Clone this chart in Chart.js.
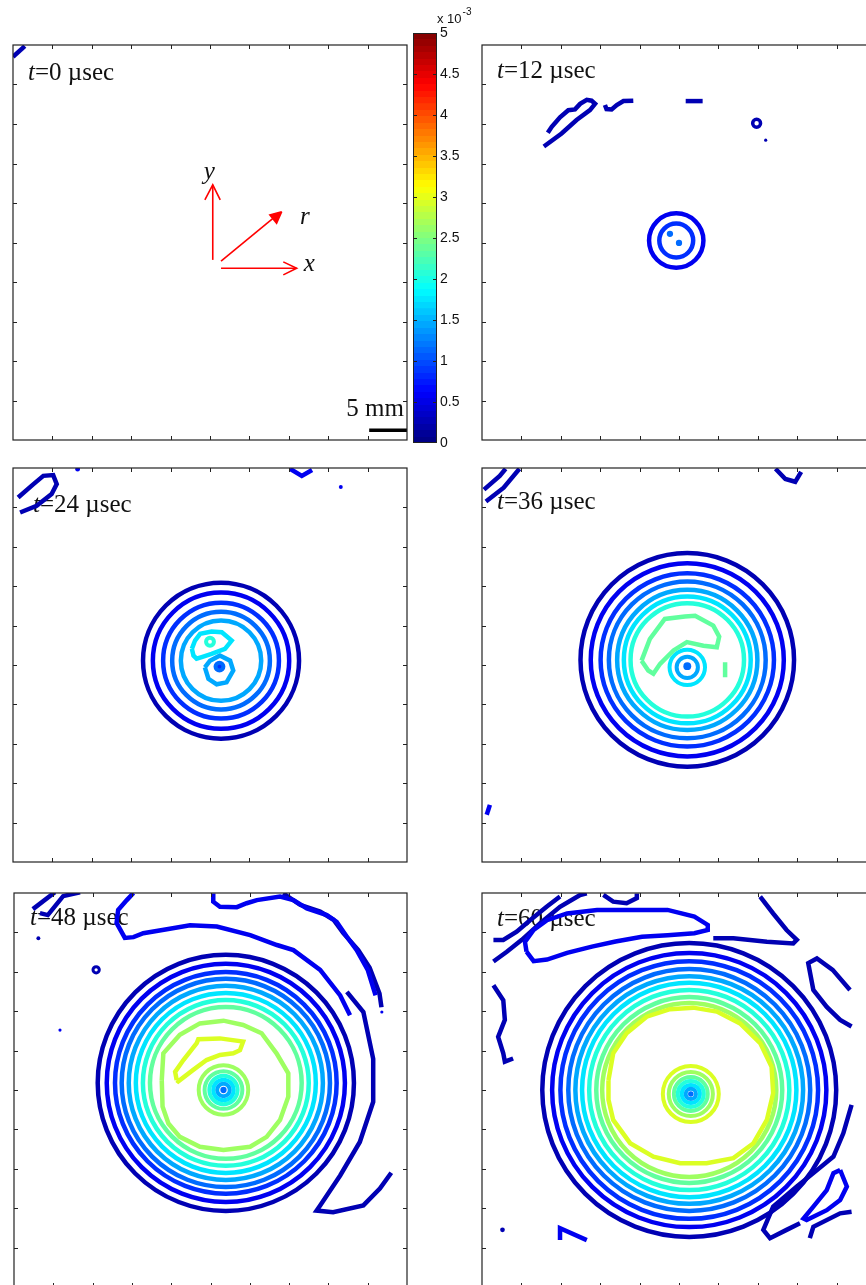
<!DOCTYPE html>
<html>
<head>
<meta charset="utf-8">
<script src="https://cdn.jsdelivr.net/npm/chart.js@4.4.0/dist/chart.umd.min.js"></script>
<style>
  html, body { margin: 0; padding: 0; background: #fff; }
  #page { position: relative; width: 866px; height: 1285px; overflow: hidden; }
  #page canvas { position: absolute; }
</style>
</head>
<body>
<div id="page">
  <canvas id="p1"></canvas>
  <canvas id="p2"></canvas>
  <canvas id="p3"></canvas>
  <canvas id="p4"></canvas>
  <canvas id="p5"></canvas>
  <canvas id="p6"></canvas>
  <canvas id="cbar"></canvas>
</div>
<script>
// contour levels (x 10^-3) and colour bar
const levels = [0.25, 0.55, 0.85, 1.15, 1.45, 1.75, 2.05, 2.35, 2.65, 2.95];
const cbRange = [0, 5];
const cbTicks = [0, 0.5, 1, 1.5, 2, 2.5, 3, 3.5, 4, 4.5, 5];
const panelTicks = [1, 2, 3, 4, 5, 6, 7, 8, 9];
const timeLabels = ['0', '12', '24', '36', '48', '60'];

// panel 1 (t=0): only a corner fragment + the axes sketch
const p1Frag = [[0, 9.70], [0.30, 9.97]];
const arrowY = [[5.07, 4.56], [5.07, 6.46]];
const arrowYHead = [[4.87, 6.08], [5.07, 6.46], [5.26, 6.08]];
const arrowX = [[5.28, 4.35], [7.20, 4.35]];
const arrowXHead = [[6.86, 4.51], [7.20, 4.35], [6.86, 4.18]];
const arrowR = [[5.28, 4.53], [6.66, 5.66]];
const arrowRHead = [[6.82, 5.78], [6.52, 5.70], [6.69, 5.49], [6.82, 5.78]];
const scaleBar = [[9.04, 0.25], [10, 0.25]];

// panel 2 (t=12)
const p2Center = [4.93, 5.05];
const p2Radii = [0.69, 0.43];
const p2Levels = [1, 2];
const p2FragA = [[1.57, 7.43], [2.02, 7.76], [2.40, 8.10], [2.74, 8.35], [2.87, 8.51], [2.78, 8.59],
  [2.66, 8.61], [2.49, 8.51], [2.36, 8.37], [2.19, 8.35], [1.98, 8.17], [1.77, 7.93], [1.67, 7.78]];
const p2FragB = [[3.12, 8.48], [3.16, 8.38], [3.29, 8.37], [3.42, 8.48], [3.59, 8.58], [3.84, 8.59]];
const p2FragC = [[5.17, 8.58], [5.60, 8.58]];
const p2Dots = [[4.77, 5.22, 0.08, 3], [5.00, 4.99, 0.08, 3], [7.20, 7.59, 0.04, 0]];
const p2SmallRing = [[6.97, 8.02, 0.10, 0]];

// panel 3 (t=24)
const p3Center = [5.28, 5.11];
const p3Radii = [1.98, 1.73, 1.47, 1.24, 1.02];
const p3Levels = [0, 1, 2, 3, 4];
const p3Inner = [[4.54, 5.41], [4.62, 5.62], [4.75, 5.79], [5.04, 5.85], [5.30, 5.83], [5.55, 5.62],
  [5.38, 5.41], [5.04, 5.28], [4.79, 5.20], [4.66, 5.16], [4.58, 5.24], [4.54, 5.41]];
const p3Core = [[4.87, 4.94], [5.00, 5.11], [5.25, 5.24], [5.51, 5.11], [5.59, 4.86], [5.42, 4.56],
  [5.17, 4.51], [4.96, 4.65], [4.87, 4.94]];
const p3Corner = [[0.13, 9.25], [0.52, 9.59], [0.77, 9.80], [1.02, 9.82], [1.11, 9.59], [0.98, 9.34],
  [0.60, 9.04], [0.18, 8.87]];
const p3TopRight = [[7.03, 9.98], [7.33, 9.80], [7.59, 9.95]];
const p3SmallRings = [[5.00, 5.59, 0.10, 6], [5.24, 4.96, 0.10, 3]];
const p3Dots = [[5.24, 4.96, 0.08, 2], [1.64, 9.97, 0.06, 1], [8.32, 9.52, 0.05, 1]];

// panel 4 (t=36)
const p4Center = [5.21, 5.13];
const p4Radii = [2.71, 2.45, 2.20, 1.99, 1.78, 1.61, 1.44];
const p4Levels = [0, 1, 2, 3, 4, 5, 6];
const p4Inner = [[4.05, 5.11], [4.26, 5.66], [4.64, 6.17], [5.15, 6.23], [5.41, 6.25], [5.87, 6.00],
  [6.02, 5.72], [5.96, 5.45], [5.62, 5.49], [5.20, 5.58], [4.86, 5.37], [4.52, 5.03], [4.35, 4.78],
  [4.22, 4.86], [4.05, 5.11]];
const p4Dash = [[6.17, 5.07], [6.17, 4.69]];
const p4CornerA = [[0.05, 9.45], [0.45, 9.80], [0.60, 9.98]];
const p4CornerB = [[0.10, 9.15], [0.55, 9.50], [0.95, 9.98]];
const p4TopRight = [[7.45, 9.98], [7.70, 9.72], [7.95, 9.65], [8.10, 9.90]];
const p4BottomLeft = [[0.12, 1.20], [0.20, 1.45]];
const p4SmallRings = [[5.21, 4.94, 0.45, 5], [5.21, 4.94, 0.27, 4]];
const p4Dots = [[5.21, 4.97, 0.10, 3]];

// panel 5 (t=48)
const p5Center = [5.39, 5.18];
const p5Radii = [3.26, 3.03, 2.82, 2.65, 2.47, 2.29, 2.11, 1.93];
const p5Levels = [0, 1, 2, 3, 4, 5, 6, 7];
const p5Inner = [[3.76, 5.25], [3.80, 5.93], [4.22, 6.40], [4.73, 6.69], [5.33, 6.76], [5.83, 6.65],
  [6.30, 6.44], [6.68, 5.93], [6.98, 5.42], [6.98, 4.83], [6.77, 4.24], [6.43, 3.81], [6.01, 3.56],
  [5.33, 3.48], [4.73, 3.56], [4.22, 3.81], [3.93, 4.15], [3.78, 4.58], [3.76, 5.25]];
const p5Patch = [[4.14, 5.25], [4.10, 5.46], [4.31, 5.76], [4.65, 6.19], [4.69, 6.29], [5.24, 6.31],
  [5.83, 6.23], [5.75, 6.01], [5.58, 5.93], [5.24, 5.89], [4.90, 5.76], [4.56, 5.51], [4.18, 5.22], [4.14, 5.25]];
const p5CoreRadii = [0.63, 0.48, 0.36, 0.26, 0.16];
const p5CoreLevels = [8, 7, 6, 5, 4];
const p5CoreCenter = [5.33, 5.00];
const p5CornerA = [[0.48, 9.59], [1.04, 10.02]];
const p5CornerB = [[0.66, 9.49], [0.86, 9.44], [1.25, 9.92], [1.68, 10.02]];
const p5Wave = [[3.04, 10.0], [2.87, 9.82], [2.65, 9.57], [2.61, 9.24], [2.82, 8.86], [3.04, 8.88],
  [3.29, 8.98], [3.89, 9.08], [4.48, 9.18], [5.16, 9.15], [6.01, 8.93], [6.69, 8.68], [7.11, 8.55],
  [7.79, 8.05], [8.30, 7.40], [8.55, 6.90]];
const p5TopLoop = [[5.07, 9.99], [5.07, 9.78], [5.24, 9.65], [5.67, 9.64], [5.92, 9.74], [6.18, 9.82],
  [6.77, 9.91], [7.11, 9.82], [7.45, 9.61], [7.96, 9.44], [8.21, 9.27], [8.47, 8.89], [8.72, 8.55],
  [9.00, 8.05], [9.20, 7.40]];
const p5TopNavy = [[6.85, 9.99], [7.28, 9.70], [7.79, 9.53], [8.13, 9.32], [8.38, 8.98], [8.76, 8.55],
  [9.05, 8.10], [9.30, 7.45], [9.35, 7.10]];
const p5Right = [[8.47, 7.49], [8.89, 6.98], [9.14, 5.79], [9.14, 4.70], [8.80, 3.68], [8.30, 2.83],
  [7.79, 2.07], [7.70, 1.94], [8.12, 1.90], [8.89, 2.07], [9.31, 2.50], [9.60, 2.90]];
const p5Dots = [[5.33, 5.00, 0.08, 3], [0.62, 8.85, 0.05, 0], [1.17, 6.52, 0.04, 1], [9.36, 6.98, 0.04, 1]];
const p5SmallRing = [[2.09, 8.05, 0.08, 0]];

// panel 6 (t=60)
const p6Center = [5.26, 5.00];
const p6Radii = [3.73, 3.48, 3.27, 3.07, 2.89, 2.72, 2.54, 2.36, 2.21];
const p6Levels = [0, 1, 2, 3, 4, 5, 6, 7, 8];
const p6Inner = [[3.21, 5.25], [3.33, 5.93], [3.67, 6.44], [4.18, 6.86], [4.77, 7.05], [5.36, 7.09],
  [5.96, 6.99], [6.55, 6.69], [7.06, 6.19], [7.35, 5.59], [7.39, 4.92], [7.23, 4.24], [6.89, 3.65],
  [6.38, 3.27], [5.70, 3.14], [5.03, 3.14], [4.35, 3.31], [3.76, 3.65], [3.33, 4.24], [3.21, 4.75], [3.21, 5.25]];
const p6CoreRadii = [0.71, 0.56, 0.43, 0.33, 0.23, 0.13];
const p6CoreLevels = [9, 8, 7, 6, 5, 4];
const p6CoreCenter = [5.30, 4.90];
const p6TopLoop = [[1.13, 8.51], [1.09, 8.76], [1.31, 9.06], [1.65, 9.31], [2.16, 9.48], [2.92, 9.57],
  [3.78, 9.57], [4.71, 9.57], [5.39, 9.40], [5.73, 9.19], [5.73, 9.06], [5.39, 8.98], [4.71, 8.93],
  [4.06, 8.89], [3.39, 8.77], [2.79, 8.64], [2.16, 8.48], [1.65, 8.31], [1.31, 8.27], [1.13, 8.51]];
const p6NavyA = [[0.29, 8.26], [0.63, 8.51], [1.01, 8.81], [1.47, 9.23], [1.98, 9.65], [2.49, 9.95], [2.66, 9.99]];
const p6NavyB = [[0.29, 8.81], [0.54, 8.81], [0.88, 9.02], [1.22, 9.31], [1.64, 9.65], [1.98, 9.91]];
const p6TopSmall = [[3.08, 9.95], [3.33, 9.78], [3.67, 9.74], [3.93, 9.87], [3.93, 9.99]];
const p6TopRight = [[7.06, 9.91], [7.39, 9.48], [7.73, 9.06], [7.99, 8.81], [7.90, 8.72], [7.23, 8.76],
  [6.38, 8.85], [5.87, 8.85]];
const p6RightLoop = [[9.38, 6.61], [9.09, 6.78], [8.75, 7.11], [8.41, 7.54], [8.28, 8.22], [8.50, 8.34],
  [8.90, 8.05], [9.34, 7.54]];
const p6Left = [[0.29, 7.66], [0.54, 7.28], [0.58, 6.78], [0.41, 6.35], [0.54, 5.93], [0.58, 5.72], [0.79, 5.80]];
const p6RightLow = [[9.38, 4.62], [9.17, 3.90], [8.92, 3.31], [8.41, 2.89], [7.99, 2.55], [7.39, 2.04],
  [7.14, 1.45], [7.31, 1.24], [7.73, 1.45], [8.07, 1.62]];
const p6BlueLoop = [[9.09, 2.97], [9.26, 2.55], [9.09, 2.21], [8.75, 1.95], [8.24, 1.70], [8.16, 1.74],
  [8.41, 2.04], [8.75, 2.46], [8.92, 2.89], [9.09, 2.97]];
const p6NavyLow = [[9.38, 1.91], [9.09, 1.87], [8.41, 1.53], [8.32, 1.24]];
const p6Hook = [[1.98, 1.19], [1.98, 1.49], [2.66, 1.19]];
const p6Dots = [[5.30, 4.90, 0.07, 3], [0.52, 1.45, 0.06, 0]];

// ---------------------------------------------------------------
function jet(v) {
  const c = t => Math.round(255 * Math.max(0, Math.min(1, 1.5 - Math.abs(t))));
  return 'rgb(' + c(4 * v - 3) + ',' + c(4 * v - 2) + ',' + c(4 * v - 1) + ')';
}
function levelColor(k) { return jet(levels[k] / cbRange[1]); }
function unitPx(chart) {
  const s = chart.scales.x;
  return Math.abs(s.getPixelForValue(1) - s.getPixelForValue(0));
}
const pts = arr => arr.map(p => ({ x: p[0], y: p[1] }));

function ringSet(center, radii, levs, width) {
  return {
    data: radii.map((r, i) => ({ x: center[0], y: center[1], r: r, lev: levs[i] })),
    showLine: false,
    pointRadius: ctx => unitPx(ctx.chart) * ctx.raw.r,
    pointHoverRadius: ctx => unitPx(ctx.chart) * ctx.raw.r,
    pointBorderWidth: width || 4.5,
    pointHoverBorderWidth: width || 4.5,
    pointBorderColor: ctx => levelColor(ctx.raw.lev),
    pointBackgroundColor: 'rgba(0,0,0,0)',
    clip: 0
  };
}
function smallRings(list, width) {
  return {
    data: list.map(d => ({ x: d[0], y: d[1], r: d[2], lev: d[3] })),
    showLine: false,
    pointRadius: ctx => unitPx(ctx.chart) * ctx.raw.r,
    pointBorderWidth: width || 4,
    pointBorderColor: ctx => levelColor(ctx.raw.lev),
    pointBackgroundColor: 'rgba(0,0,0,0)',
    clip: 0
  };
}
function dotSet(list) {
  return {
    data: list.map(d => ({ x: d[0], y: d[1], r: d[2], lev: d[3] })),
    showLine: false,
    pointRadius: ctx => Math.max(1.5, unitPx(ctx.chart) * ctx.raw.r),
    pointBorderWidth: 0,
    pointBackgroundColor: ctx => levelColor(ctx.raw.lev),
    clip: 0
  };
}
function pathSet(arr, lev, width) {
  return {
    data: pts(arr),
    showLine: true,
    borderColor: levelColor(lev),
    borderWidth: width || 4.5,
    borderJoinStyle: 'miter',
    pointRadius: 0,
    tension: 0,
    clip: 0
  };
}
function redLine(arr, filled) {
  return {
    data: pts(arr),
    showLine: true,
    borderColor: '#ff0000',
    backgroundColor: '#ff0000',
    borderWidth: 1.6,
    pointRadius: 0,
    fill: filled ? 'shape' : false,
    clip: 0
  };
}

const panelFrame = {
  id: 'panelFrame',
  beforeDatasetsDraw(chart, args, opts) {
    const { ctx, chartArea: a } = chart;
    ctx.save();
    ctx.fillStyle = '#111';
    ctx.textBaseline = 'alphabetic';
    const x0 = a.left + opts.textDx, y0 = a.top + opts.textDy;
    ctx.font = 'italic 25px "Liberation Serif"';
    ctx.fillText('t', x0, y0);
    const tw = ctx.measureText('t').width;
    ctx.font = '25px "Liberation Serif"';
    ctx.fillText('=' + opts.label + ' \u00b5sec', x0 + tw, y0);
    ctx.restore();
  },
  afterDatasetsDraw(chart, args, opts) {
    const { ctx, chartArea: a, scales } = chart;
    ctx.save();
    (opts.notes || []).forEach(n => {
      ctx.font = n.font;
      ctx.fillStyle = '#111';
      ctx.textAlign = n.align || 'center';
      ctx.textBaseline = 'alphabetic';
      ctx.fillText(n.text, scales.x.getPixelForValue(n.x), scales.y.getPixelForValue(n.y));
    });
    ctx.strokeStyle = '#222';
    ctx.lineWidth = 1.2;
    ctx.strokeRect(a.left, a.top, a.right - a.left, a.bottom - a.top);
    ctx.lineWidth = 1;
    ctx.beginPath();
    panelTicks.forEach(v => {
      const px = Math.round(scales.x.getPixelForValue(v)) + 0.5;
      const py = Math.round(scales.y.getPixelForValue(v)) + 0.5;
      ctx.moveTo(px, a.top); ctx.lineTo(px, a.top + 4);
      ctx.moveTo(px, a.bottom); ctx.lineTo(px, a.bottom - 4);
      ctx.moveTo(a.left, py); ctx.lineTo(a.left + 4, py);
      ctx.moveTo(a.right, py); ctx.lineTo(a.right - 4, py);
    });
    ctx.stroke();
    ctx.restore();
  }
};

function makePanel(id, box, datasets, frameOpts) {
  const pad = 10;
  const cv = document.getElementById(id);
  cv.width = box.w + 2 * pad;
  cv.height = box.h + 2 * pad;
  cv.style.left = (box.left - pad) + 'px';
  cv.style.top = (box.top - pad) + 'px';
  cv.style.width = cv.width + 'px';
  cv.style.height = cv.height + 'px';
  return new Chart(cv, {
    type: 'scatter',
    data: { datasets: datasets },
    options: {
      responsive: false,
      animation: false,
      events: [],
      layout: { padding: pad },
      scales: {
        x: { type: 'linear', min: 0, max: 10, display: false },
        y: { type: 'linear', min: 0, max: 10, display: false }
      },
      plugins: { legend: { display: false }, tooltip: { enabled: false }, panelFrame: frameOpts }
    },
    plugins: [panelFrame]
  });
}

const serifI = 'italic 25px "Liberation Serif"';

makePanel('p1', { left: 13, top: 45, w: 394, h: 395 }, [
  pathSet(p1Frag, 0),
  redLine(arrowY), redLine(arrowYHead), redLine(arrowX), redLine(arrowXHead),
  redLine(arrowR), redLine(arrowRHead, true),
  { data: pts(scaleBar), showLine: true, borderColor: '#000', borderWidth: 3.5, pointRadius: 0, clip: 0 }
], {
  label: timeLabels[0], textDx: 15, textDy: 35,
  notes: [
    { text: 'y', x: 4.98, y: 6.60, font: serifI },
    { text: 'r', x: 7.41, y: 5.48, font: serifI },
    { text: 'x', x: 7.52, y: 4.28, font: serifI },
    { text: '5 mm', x: 9.92, y: 0.62, font: '25px "Liberation Serif"', align: 'right' }
  ]
});

makePanel('p2', { left: 482, top: 45, w: 394, h: 395 }, [
  ringSet(p2Center, p2Radii, p2Levels),
  pathSet(p2FragA, 0), pathSet(p2FragB, 0), pathSet(p2FragC, 0),
  smallRings(p2SmallRing, 3.5), dotSet(p2Dots)
], { label: timeLabels[1], textDx: 15, textDy: 33 });

makePanel('p3', { left: 13, top: 468, w: 394, h: 394 }, [
  pathSet(p3Inner, 5), pathSet(p3Core, 4), smallRings(p3SmallRings, 4), dotSet(p3Dots),
  ringSet(p3Center, p3Radii, p3Levels),
  pathSet(p3Corner, 0), pathSet(p3TopRight, 1)
], { label: timeLabels[2], textDx: 20, textDy: 44 });

makePanel('p4', { left: 482, top: 468, w: 394, h: 394 }, [
  pathSet(p4Inner, 7), pathSet(p4Dash, 7), smallRings(p4SmallRings, 4), dotSet(p4Dots),
  ringSet(p4Center, p4Radii, p4Levels),
  pathSet(p4CornerA, 0), pathSet(p4CornerB, 0), pathSet(p4TopRight, 0), pathSet(p4BottomLeft, 1)
], { label: timeLabels[3], textDx: 15, textDy: 41 });

makePanel('p5', { left: 14, top: 893, w: 393, h: 394 }, [
  pathSet(p5Inner, 8), pathSet(p5Patch, 9),
  ringSet(p5CoreCenter, p5CoreRadii, p5CoreLevels, 4), dotSet(p5Dots),
  ringSet(p5Center, p5Radii, p5Levels),
  pathSet(p5CornerA, 0), pathSet(p5CornerB, 0), pathSet(p5Wave, 1), pathSet(p5TopLoop, 1),
  pathSet(p5TopNavy, 0), pathSet(p5Right, 0), smallRings(p5SmallRing, 3)
], { label: timeLabels[4], textDx: 16, textDy: 32 });

makePanel('p6', { left: 482, top: 893, w: 394, h: 394 }, [
  pathSet(p6Inner, 9),
  ringSet(p6CoreCenter, p6CoreRadii, p6CoreLevels, 4), dotSet(p6Dots),
  ringSet(p6Center, p6Radii, p6Levels),
  pathSet(p6TopLoop, 1), pathSet(p6NavyA, 0), pathSet(p6NavyB, 0), pathSet(p6TopSmall, 0),
  pathSet(p6TopRight, 0), pathSet(p6RightLoop, 0), pathSet(p6Left, 0), pathSet(p6RightLow, 0),
  pathSet(p6BlueLoop, 1), pathSet(p6NavyLow, 0), pathSet(p6Hook, 1)
], { label: timeLabels[5], textDx: 15, textDy: 33 });

// colour bar
const cbarPlugin = {
  id: 'cbarFrame',
  afterDatasetsDraw(chart) {
    const { ctx, chartArea: a, scales } = chart;
    ctx.save();
    ctx.strokeStyle = '#222';
    ctx.lineWidth = 1;
    ctx.strokeRect(a.left + 0.5, a.top + 0.5, a.right - a.left - 1, a.bottom - a.top - 1);
    ctx.beginPath();
    cbTicks.slice(1, -1).forEach(v => {
      const py = Math.round(scales.y.getPixelForValue(v)) + 0.5;
      ctx.moveTo(a.left, py); ctx.lineTo(a.left + 4, py);
      ctx.moveTo(a.right, py); ctx.lineTo(a.right - 4, py);
    });
    ctx.stroke();
    ctx.fillStyle = '#111';
    ctx.font = '13px "Liberation Sans"';
    ctx.textBaseline = 'alphabetic';
    ctx.fillText('x 10', a.right, a.top - 10);
    const w = ctx.measureText('x 10').width;
    ctx.font = '10px "Liberation Sans"';
    ctx.fillText('-3', a.right + w + 1, a.top - 18);
    ctx.restore();
  }
};

(function () {
  const cv = document.getElementById('cbar');
  cv.width = 80; cv.height = 460;
  cv.style.left = '400px'; cv.style.top = '0px';
  cv.style.width = '80px'; cv.style.height = '460px';
  new Chart(cv, {
    type: 'bar',
    data: {
      labels: ['c'],
      datasets: [{
        data: [cbRange],
        barPercentage: 1,
        categoryPercentage: 1,
        borderWidth: 0,
        backgroundColor: ctx => {
          const a = ctx.chart.chartArea;
          if (!a) return '#000';
          const g = ctx.chart.ctx.createLinearGradient(0, a.bottom, 0, a.top);
          const n = 64;
          for (let i = 0; i < n; i++) {
            const col = jet((i + 0.5) / n);
            g.addColorStop(i / n, col);
            g.addColorStop((i + 1) / n - 1e-4, col);
          }
          return g;
        }
      }]
    },
    options: {
      responsive: false,
      animation: false,
      events: [],
      layout: { padding: { top: 33, bottom: 17, left: 13, right: 0 } },
      scales: {
        x: { display: false },
        y: {
          position: 'right',
          min: cbRange[0], max: cbRange[1],
          afterBuildTicks: s => { s.ticks = cbTicks.map(v => ({ value: v })); },
          afterFit: s => { s.width = 43; },
          grid: { drawOnChartArea: false, drawTicks: false },
          border: { display: false },
          ticks: {
            padding: 3,
            color: '#111',
            font: { family: 'Liberation Sans', size: 14 },
            callback: v => String(v)
          }
        }
      },
      plugins: { legend: { display: false }, tooltip: { enabled: false } }
    },
    plugins: [cbarPlugin]
  });
})();
</script>
</body>
</html>
